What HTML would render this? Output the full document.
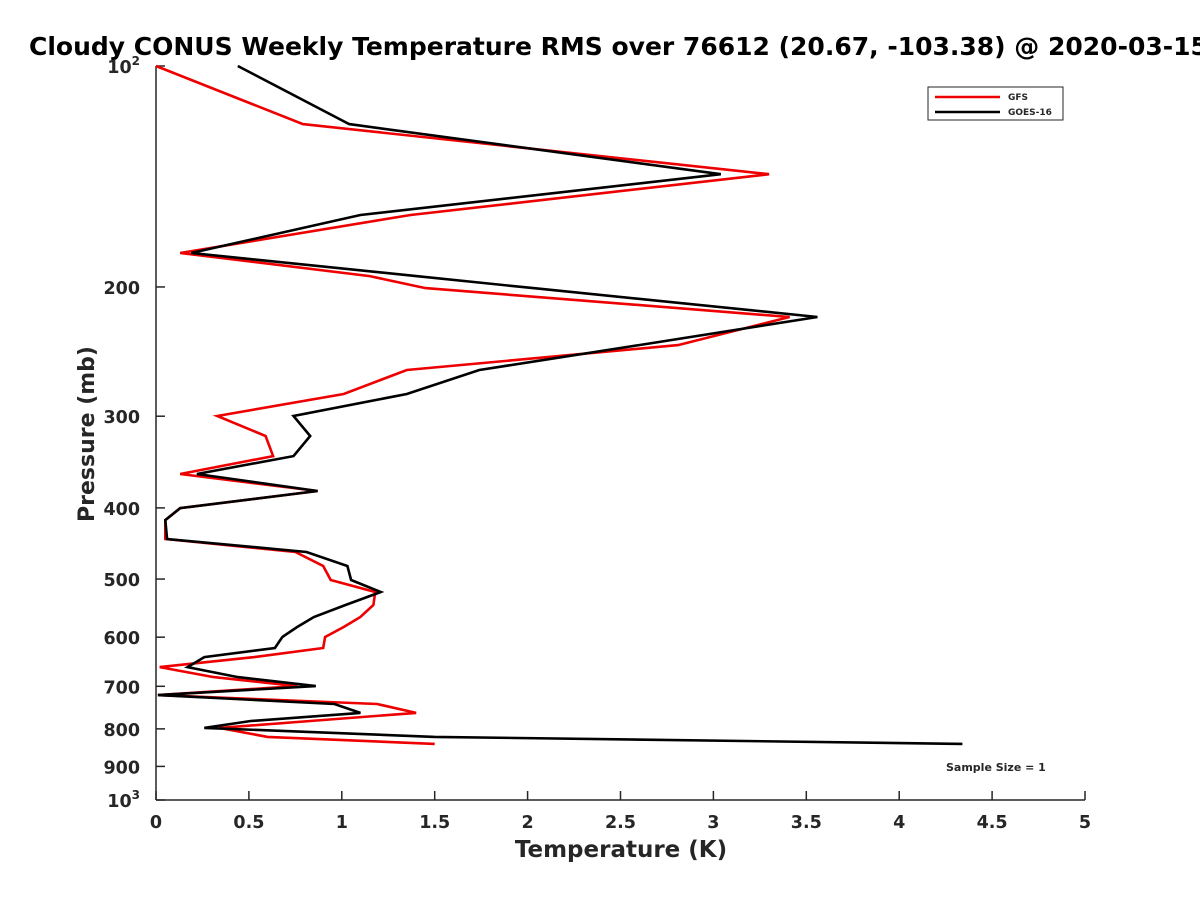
<!DOCTYPE html>
<html><head><meta charset="utf-8"><style>
body{margin:0;background:#fff}
text{font-family:"DejaVu Sans","Liberation Sans",sans-serif;font-weight:bold;fill:#262626}
</style></head><body>
<svg id="c" width="1200" height="900" xmlns="http://www.w3.org/2000/svg">
<rect width="1200" height="900" fill="#fff"/>
<text x="29" y="55" font-size="25" style="fill:#000">Cloudy CONUS Weekly Temperature RMS over 76612 (20.67, -103.38) @ 2020-03-15</text>
<g id="axes"></g>
<g id="series"></g>
<g>
<rect x="928" y="87" width="135" height="33" fill="#fff" stroke="#262626" stroke-width="1"/>
<line x1="935" y1="97" x2="1000" y2="97" stroke="#e00" stroke-width="2.5"/>
<text x="1008" y="100" font-size="9">GFS</text>
<line x1="935" y1="112" x2="1000" y2="112" stroke="#000" stroke-width="2.5"/>
<text x="1008" y="115" font-size="9">GOES-16</text>
</g>
<text x="946" y="771" font-size="11">Sample Size = 1</text>
<text x="621" y="857" font-size="23" text-anchor="middle">Temperature (K)</text>
<text transform="translate(94,434) rotate(-90)" font-size="22" text-anchor="middle">Pressure (mb)</text>
</svg>
<script>
const pressures=[100,120,140.4,159.6,179.8,193.3,200.7,219.8,240,259.5,279.8,299.8,319.2,340,359.6,379.3,400.2,415.6,441,459.4,480,501.5,520.7,542.4,563.2,581.2,599.7,620.8,638.7,659,680,699.5,719.5,740,761,780.4,797.6,820.5,838.7];
const gfs=[0,0.79,3.30,1.37,0.13,1.15,1.45,3.41,2.81,1.35,1.01,0.33,0.59,0.63,0.13,0.87,0.13,0.05,0.05,0.75,0.90,0.94,1.18,1.17,1.10,1.01,0.91,0.90,0.53,0.02,0.31,0.76,0.01,1.19,1.40,0.83,0.34,0.60,1.50];
const goes16=[0.44,1.04,3.04,1.10,0.19,1.40,2.03,3.56,2.60,1.74,1.35,0.74,0.83,0.74,0.22,0.87,0.13,0.05,0.06,0.81,1.03,1.05,1.21,1.02,0.85,0.76,0.68,0.64,0.26,0.17,0.44,0.86,0.01,0.96,1.10,0.51,0.26,1.50,4.34];
const xTicks=[0,0.5,1,1.5,2,2.5,3,3.5,4,4.5,5];
const yTicks=[100,200,300,400,500,600,700,800,900,1000];
const yTickLabels=["10|2","200","300","400","500","600","700","800","900","10|3"];
const X0=156,X1=1085,Y0=66,Y1=800;
const xs=v=>X0+(v/5)*(X1-X0);
const ys=p=>Y0+Math.log10(p/100)*(Y1-Y0);
const NS="http://www.w3.org/2000/svg";
function mk(t,a,parent){const e=document.createElementNS(NS,t);for(const k in a)e.setAttribute(k,a[k]);parent.appendChild(e);return e;}
const ax=document.getElementById('axes');
let l=mk('line',{x1:X0,y1:Y0,x2:X0,y2:Y1,stroke:'#262626','stroke-width':1.5},ax);


l=mk('line',{x1:X0,y1:Y1,x2:X1,y2:Y1,stroke:'#262626','stroke-width':1.5},ax);


xTicks.forEach(v=>{
 const x=xs(v);
 const t=mk('line',{x1:x,y1:Y1,x2:x,y2:Y1-9,stroke:'#262626','stroke-width':1.5},ax);
 
 
 const tx=mk('text',{x:x,y:828,'font-size':17.5,'text-anchor':'middle'},ax);
 tx.textContent=String(v);
 
 
});
yTicks.forEach((p,i)=>{
 const y=ys(p);
 const t=mk('line',{x1:X0,y1:y,x2:X0+9,y2:y,stroke:'#262626','stroke-width':1.5},ax);
 
 
 const lab=yTickLabels[i];
 if(lab.includes('|')){
  const [b,e]=lab.split('|');
  const tx=mk('text',{x:140,y:y+7,'font-size':17.5,'text-anchor':'end'},ax);
  const t1=mk('tspan',{},tx);t1.textContent=b;
  const t2=mk('tspan',{dy:-8,'font-size':12},tx);t2.textContent=e;
  
  
 } else {
  const tx=mk('text',{x:140,y:y+7,'font-size':17.5,'text-anchor':'end'},ax);
  tx.textContent=lab;
  
  
 }
});
const sg=document.getElementById('series');
function line(vals,color,name){
 const pts=vals.map((v,i)=>xs(v).toFixed(1)+','+ys(pressures[i]).toFixed(1)).join(' ');
 const p=mk('polyline',{points:pts,fill:'none',stroke:color,'stroke-width':2.6,'stroke-linejoin':'miter'},sg);
 
 
}
line(gfs,'#e00','gfs-line');
line(goes16,'#000','goes16-line');
</script>
</body></html>
